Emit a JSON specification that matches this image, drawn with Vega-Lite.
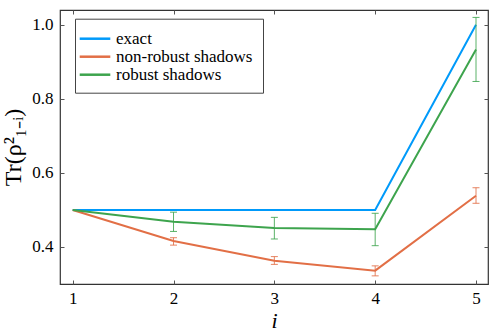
{
  "$schema": "https://vega.github.io/schema/vega-lite/v6.json",
  "width": 428,
  "height": 274,
  "autosize": "none",
  "padding": {"left": 60, "top": 10, "right": 10, "bottom": 48},
  "background": "white",
  "config": {
    "font": "Liberation Serif",
    "view": {"stroke": "#333", "strokeWidth": 1.2},
    "axis": {
      "grid": false,
      "domain": false,
      "tickSize": -4,
      "tickColor": "#555",
      "labelFont": "Liberation Serif",
      "labelFontSize": 17,
      "labelColor": "#000",
      "titleFont": "Liberation Serif",
      "titleFontWeight": "normal",
      "titleColor": "#000"
    },
    "legend": {
      "orient": "none",
      "legendX": 15,
      "legendY": 8.7,
      "symbolType": "M-1.8,0L1.8,0",
      "symbolSize": 289,
      "symbolStrokeWidth": 2.5,
      "labelFont": "Liberation Serif",
      "labelFontSize": 17,
      "labelColor": "#000",
      "labelOffset": 11,
      "labelLimit": 300,
      "rowPadding": 0,
      "padding": 10,
      "strokeColor": "#444",
      "fillColor": "white"
    }
  },
  "data": {
    "values": [
      {"i": 1, "series": "exact", "value": 0.5, "lo": null, "hi": null},
      {"i": 2, "series": "exact", "value": 0.5, "lo": null, "hi": null},
      {"i": 3, "series": "exact", "value": 0.5, "lo": null, "hi": null},
      {"i": 4, "series": "exact", "value": 0.5, "lo": null, "hi": null},
      {"i": 5, "series": "exact", "value": 1.0, "lo": null, "hi": null},
      {"i": 1, "series": "non-robust shadows", "value": 0.5, "lo": null, "hi": null},
      {"i": 2, "series": "non-robust shadows", "value": 0.416, "lo": 0.405, "hi": 0.425},
      {"i": 3, "series": "non-robust shadows", "value": 0.363, "lo": 0.353, "hi": 0.374},
      {"i": 4, "series": "non-robust shadows", "value": 0.336, "lo": 0.322, "hi": 0.349},
      {"i": 5, "series": "non-robust shadows", "value": 0.5385, "lo": 0.518, "hi": 0.56},
      {"i": 1, "series": "robust shadows", "value": 0.5, "lo": null, "hi": null},
      {"i": 2, "series": "robust shadows", "value": 0.468, "lo": 0.442, "hi": 0.494},
      {"i": 3, "series": "robust shadows", "value": 0.451, "lo": 0.4216, "hi": 0.48},
      {"i": 4, "series": "robust shadows", "value": 0.448, "lo": 0.4035, "hi": 0.491},
      {"i": 5, "series": "robust shadows", "value": 0.9336, "lo": 0.847, "hi": 1.02}
    ]
  },
  "layer": [
    {
      "mark": {"type": "line", "strokeWidth": 2},
      "encoding": {
        "x": {
          "field": "i", "type": "quantitative",
          "scale": {"domain": [0.874, 5.119], "nice": false, "zero": false},
          "axis": {"orient": "bottom", "values": [1, 2, 3, 4, 5], "format": "d", "title": "i", "titleFontStyle": "italic", "titleFontSize": 22, "labelPadding": 10, "titlePadding": 4}
        },
        "y": {
          "field": "value", "type": "quantitative",
          "scale": {"domain": [0.3, 1.04], "nice": false, "zero": false},
          "axis": {"orient": "left", "values": [0.4, 0.6, 0.8, 1.0], "format": ".1f", "title": "Tr(ρ²₁₋ᵢ)", "titleFontSize": 24, "labelPadding": 11, "titlePadding": 6}
        },
        "color": {
          "field": "series", "type": "nominal",
          "scale": {"domain": ["exact", "non-robust shadows", "robust shadows"], "range": ["#009AFA", "#E26F46", "#3DA44D"]},
          "legend": {"title": null}
        }
      }
    },
    {
      "transform": [{"filter": "datum.lo != null"}],
      "mark": {"type": "errorbar", "ticks": {"size": 7}, "opacity": 0.85},
      "encoding": {
        "x": {"field": "i", "type": "quantitative", "axis": {"orient": "top", "values": [1, 2, 3, 4, 5], "labels": false, "title": null}},
        "y": {"field": "lo", "type": "quantitative", "axis": {"orient": "right", "values": [0.4, 0.6, 0.8, 1.0], "labels": false, "title": null}},
        "y2": {"field": "hi"},
        "color": {"field": "series", "type": "nominal", "legend": null}
      }
    }
  ],
  "resolve": {"axis": {"x": "independent", "y": "independent"}}
}
